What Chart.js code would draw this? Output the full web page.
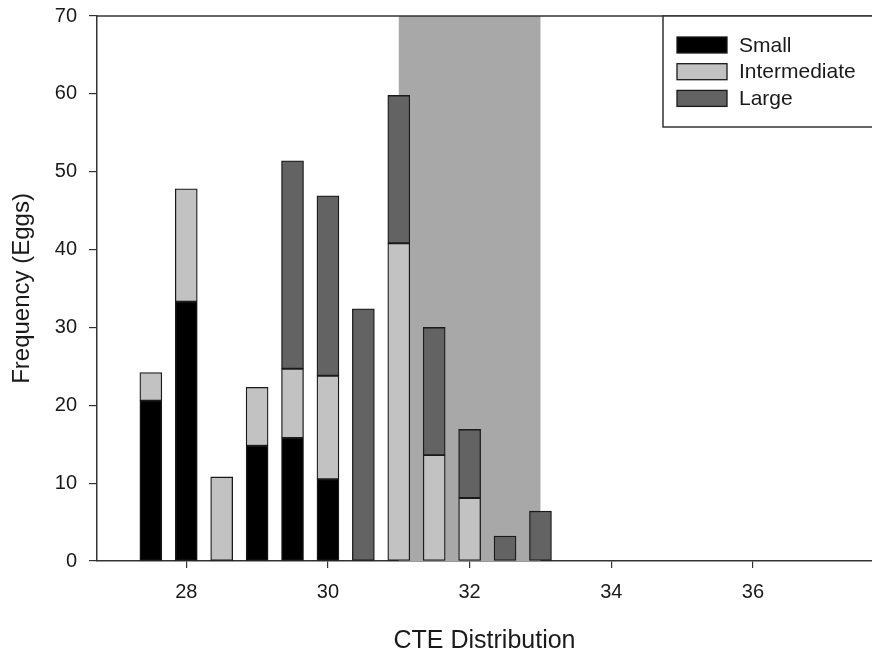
<!DOCTYPE html>
<html>
<head>
<meta charset="utf-8">
<script src="https://cdn.jsdelivr.net/npm/chart.js@4.4.1/dist/chart.umd.min.js"></script>
<style>
  body { margin: 0; background: #fff; }
  #wrap { width: 872px; height: 660px; }
</style>
</head>
<body>
<div id="wrap"><canvas id="chart" width="872" height="660"></canvas></div>
<script>
// CTE bins and egg counts per size class
const cte = [27.5, 28, 28.5, 29, 29.5, 30, 30.5, 31, 31.5, 32, 32.5, 33];
const small = [20.6, 33.3, null, 14.8, 15.8, 10.5, null, null, null, null, null, null];
const intermediate = [3.6, 14.5, 10.8, 7.5, 8.9, 13.3, null, 40.8, 13.6, 8.1, null, null];
const large = [null, null, null, null, 26.7, 23.1, 32.4, 19.0, 16.4, 8.8, 3.2, 6.4];
const xTicks = [28, 30, 32, 34, 36];
const yTicks = [0, 10, 20, 30, 40, 50, 60, 70];
const shadeFrom = 31, shadeTo = 33;

const FONT = "'Liberation Sans', Arial, sans-serif";
const LINE = '#333';
const TEXT = '#1a1a1a';

function points(vals) {
  return cte.map((x, i) => ({x, y: vals[i]})).filter(p => p.y !== null);
}

function ds(label, vals, color) {
  return {
    label, data: points(vals), backgroundColor: color,
    borderColor: '#1a1a1a', borderWidth: 1.3, borderSkipped: false,
    barThickness: 22
  };
}

// no label overflow padding, keep the plot box fixed
function noPad(s) {
  s.paddingTop = 0; s.paddingBottom = 0; s.paddingLeft = 0; s.paddingRight = 0;
}

const frame = {
  id: 'frame',
  beforeDatasetsDraw(chart) {
    const {ctx, chartArea: a, scales: {x}} = chart;
    const x0 = x.getPixelForValue(shadeFrom), x1 = x.getPixelForValue(shadeTo);
    ctx.save();
    ctx.fillStyle = '#a8a8a8';
    ctx.fillRect(x0, a.top, x1 - x0, a.bottom - a.top);
    ctx.restore();
  },
  afterDraw(chart) {
    const {ctx, chartArea: a} = chart;
    ctx.save();
    ctx.strokeStyle = LINE;
    ctx.lineWidth = 1.5;
    ctx.beginPath();
    ctx.moveTo(a.left, a.top);
    ctx.lineTo(a.right + 2, a.top);
    ctx.stroke();

    // legend box
    const bx = 663, by = a.top;
    ctx.fillStyle = '#fff';
    ctx.fillRect(bx, by, 220, 111);
    ctx.strokeRect(bx, by, 220, 111);
    ctx.font = '21px ' + FONT;
    ctx.textBaseline = 'middle';
    chart.data.datasets.forEach((d, i) => {
      const sy = by + 21 + i * 26.7;
      ctx.fillStyle = d.backgroundColor;
      ctx.fillRect(bx + 14, sy, 50, 16);
      ctx.strokeStyle = '#1a1a1a';
      ctx.lineWidth = 1.3;
      ctx.strokeRect(bx + 14, sy, 50, 16);
      ctx.fillStyle = TEXT;
      ctx.fillText(d.label, bx + 76, sy + 9);
    });
    ctx.restore();
  }
};

new Chart(document.getElementById('chart'), {
  type: 'bar',
  data: {
    datasets: [
      ds('Small', small, '#000000'),
      ds('Intermediate', intermediate, '#c2c2c2'),
      ds('Large', large, '#636363')
    ]
  },
  options: {
    responsive: false,
    animation: false,
    layout: { padding: { top: 16, right: 0, left: 0, bottom: 0 } },
    plugins: { legend: { display: false }, tooltip: { enabled: false } },
    scales: {
      x: {
        type: 'linear', stacked: true, offset: false,
        min: 26.74, max: 37.68,
        afterBuildTicks: s => { s.ticks = xTicks.map(v => ({value: v})); },
        afterFit: s => { s.height = 99; noPad(s); },
        grid: { display: true, drawOnChartArea: false, drawTicks: true, tickLength: 7, color: LINE, lineWidth: 1.2, offset: false },
        border: { display: true, color: LINE, width: 1.5 },
        ticks: { color: TEXT, font: { family: FONT, size: 20 }, padding: 12, maxRotation: 0 },
        title: { display: true, text: 'CTE Distribution', color: TEXT, font: { family: FONT, size: 25 }, padding: { top: 0, bottom: 4 } }
      },
      y: {
        stacked: true, min: 0, max: 70,
        afterBuildTicks: s => { s.ticks = yTicks.map(v => ({value: v})); },
        afterFit: s => { s.width = 97; noPad(s); },
        grid: { display: true, drawOnChartArea: false, drawTicks: true, tickLength: 8, color: LINE, lineWidth: 1.2 },
        border: { display: true, color: LINE, width: 1.5 },
        ticks: { color: TEXT, font: { family: FONT, size: 20 }, padding: 12 },
        title: { display: true, text: 'Frequency (Eggs)', color: TEXT, font: { family: FONT, size: 24 }, padding: { top: 8, bottom: 0 } }
      }
    }
  },
  plugins: [frame]
});
</script>
</body>
</html>
